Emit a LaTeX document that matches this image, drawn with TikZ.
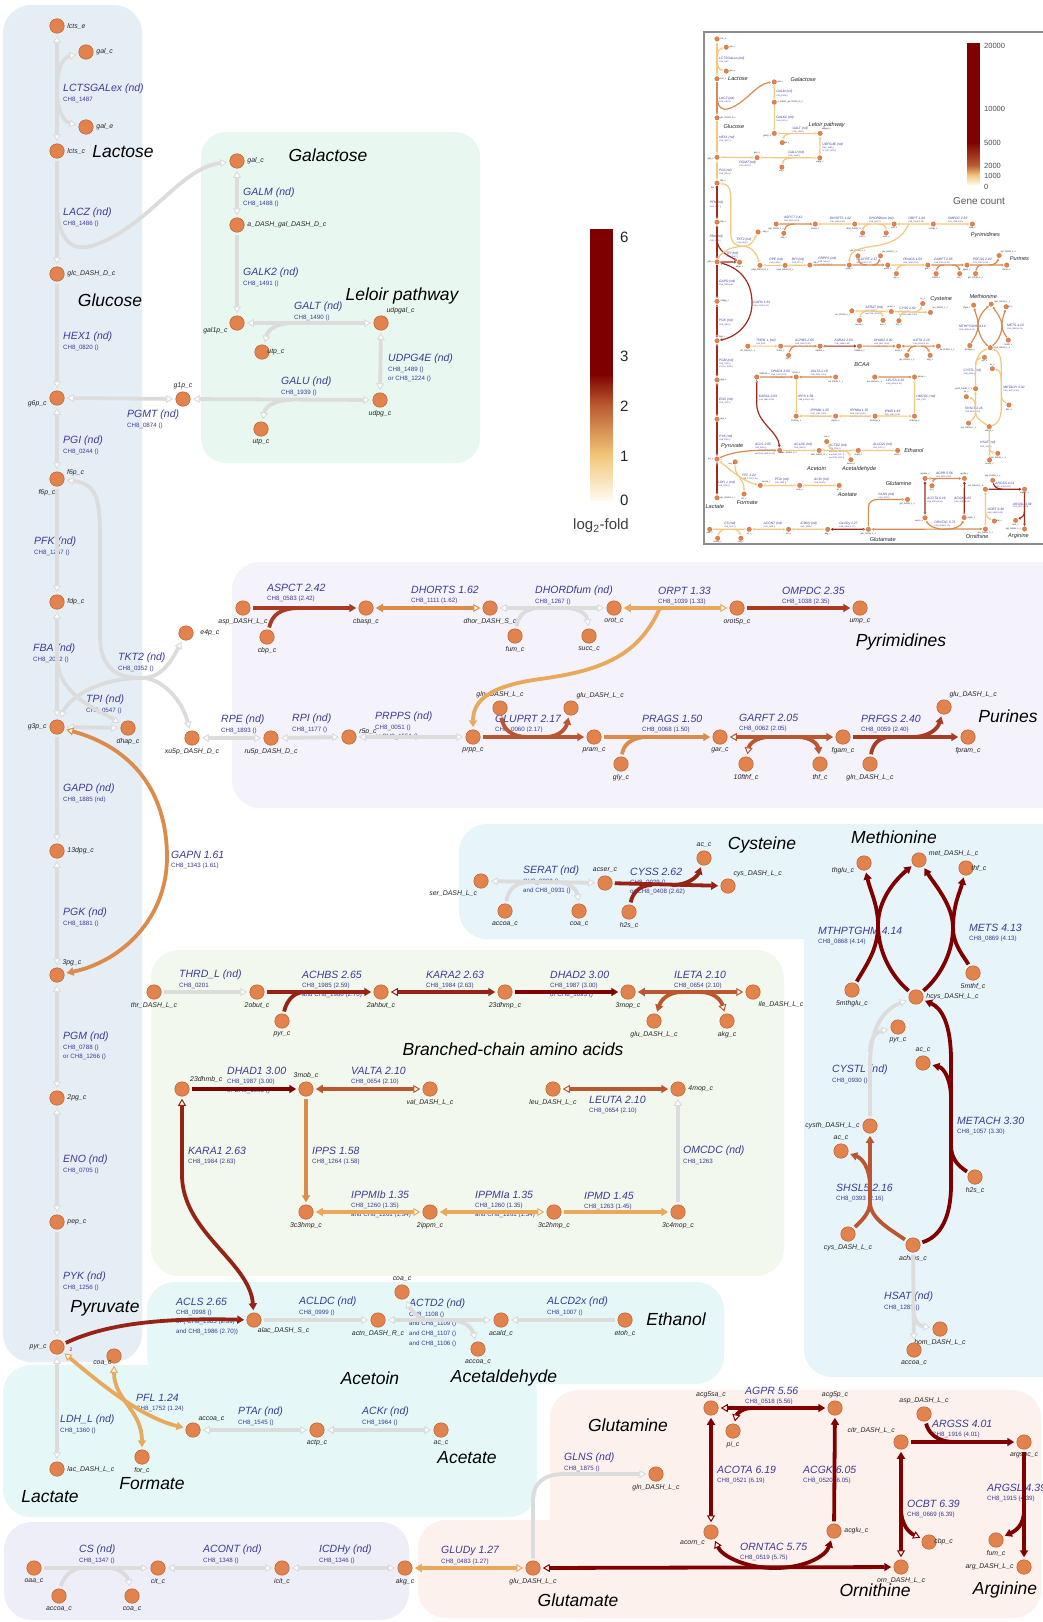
\documentclass[tikz,border=0pt]{standalone}
\usepackage{fontspec}
\setmainfont{Liberation Sans}
\usetikzlibrary{arrows.meta}
\definecolor{nodeF}{HTML}{E2834E}
\definecolor{nodeD}{HTML}{B9602E}
\definecolor{rxT}{HTML}{3B3B96}
\definecolor{cND}{HTML}{DCDCDC}
\definecolor{cA}{HTML}{E9A95C}
\definecolor{cB}{HTML}{DB8C4A}
\definecolor{cC}{HTML}{BA5630}
\definecolor{cD}{HTML}{A63C23}
\definecolor{cE}{HTML}{952416}
\definecolor{cF}{HTML}{800000}
\definecolor{inA}{HTML}{F3C87C}
\definecolor{inB}{HTML}{D68C50}
\definecolor{inC}{HTML}{9E2B1E}
\definecolor{pLeft}{HTML}{E6EEF5}
\definecolor{pGal}{HTML}{E8F8F1}
\definecolor{pPur}{HTML}{F4F3FB}
\definecolor{pCys}{HTML}{E7F4FA}
\definecolor{pBr}{HTML}{F2F8ED}
\definecolor{pAc}{HTML}{E5F7F7}
\definecolor{pTCA}{HTML}{EEEEF9}
\definecolor{pPink}{HTML}{FDF1EE}
\definecolor{cb0}{HTML}{FFF9EE}
\definecolor{cb1}{HTML}{F2C679}
\definecolor{cb2}{HTML}{BA5A30}
\definecolor{cb3}{HTML}{7F0000}
\tikzset{
 fT/.tip={Triangle[length=7pt,width=8pt]},
 oT/.tip={Triangle[open,fill=white,length=7pt,width=8pt,line width=1pt]},
 met/.style={circle,fill=nodeF,draw=nodeD,line width=0.5pt,minimum size=14.5pt,inner sep=0pt,outer sep=2.5pt},
 ml/.style={font=\fontsize{6.9}{7.5}\selectfont\itshape,text=black!85,inner sep=0.5pt},
 rxn/.style={font=\fontsize{10.5}{12}\selectfont\itshape,text=rxT,inner sep=0pt},
 gene/.style={font=\fontsize{6.2}{9.6}\selectfont,text=rxT,inner sep=0pt,align=left},
 pw/.style={font=\fontsize{17.5}{20}\selectfont\itshape,text=black,inner sep=0pt},
 stoich/.style={font=\fontsize{5}{5}\selectfont,text=red!80!black,inner sep=0pt},
 ldm/.style={label distance=-5pt},
 ldp/.style={label distance=4pt},
 ed/.style={line width=3.8pt},
 ND/.style={ed,draw=cND},
 EA/.style={ed,draw=cA},
 EB/.style={ed,draw=cB},
 EC/.style={ed,draw=cC},
 ED/.style={ed,draw=cD},
 EE/.style={ed,draw=cE},
 EF/.style={ed,draw=cF},
 gA/.style={}, gB/.style={}, gC/.style={},
 cbl/.style={font=\fontsize{15}{16}\selectfont,text=black!85,inner sep=0pt,anchor=west},
 icbl/.style={font=\fontsize{7.5}{8}\selectfont,text=black!70,inner sep=0pt,anchor=west}
}
\newcommand\bcaa{Branched-chain amino acids}
\newcommand\mnode[5]{\node[met,label={[ml]#4:#5}] (#1) at (#2,#3) {};}
\newcommand\rlab[4]{\node[rxn,anchor=west] at (#1,#2) {#3};\node[gene,anchor=north west] at (#1,#2+7.5) {#4};}
\newcommand\PW[3]{\node[pw] at (#1,#2) {#3};}
\newcommand\network{%
\PW{123}{152}{Lactose}
\PW{328}{155}{Galactose}
\PW{110}{300}{Glucose}
\PW{402}{296}{Leloir pathway}
\PW{901}{642}{Pyrimidines}
\PW{1008}{716}{Purines}
\PW{762}{845}{Cysteine}
\PW{894}{837}{Methionine}
\PW{513}{1049}{\bcaa}
\PW{105}{1308}{Pyruvate}
\PW{676}{1319}{Ethanol}
\PW{370}{1378}{Acetoin}
\PW{504}{1378}{Acetaldehyde}
\PW{467}{1458}{Acetate}
\PW{152}{1484}{Formate}
\PW{50}{1497}{Lactate}
\PW{628}{1425}{Glutamine}
\PW{578}{1600}{Glutamate}
\PW{875}{1590}{Ornithine}
\PW{1005}{1590}{Arginine}
% reaction labels
\rlab{63}{89}{LCTSGALex (nd)}{CH8\_1487}
\rlab{63}{213}{LACZ (nd)}{CH8\_1486 ()}
\rlab{243}{193}{GALM (nd)}{CH8\_1488 ()}
\rlab{243}{273}{GALK2 (nd)}{CH8\_1491 ()}
\rlab{294}{307}{GALT (nd)}{CH8\_1490 ()}
\rlab{63}{337}{HEX1 (nd)}{CH8\_0820 ()}
\rlab{388}{359}{UDPG4E (nd)}{CH8\_1489 ()\\or CH8\_1224 ()}
\rlab{281}{382}{GALU (nd)}{CH8\_1939 ()}
\rlab{127}{415}{PGMT (nd)}{CH8\_0874 ()}
\rlab{63}{441}{PGI (nd)}{CH8\_0244 ()}
\rlab{34}{542}{PFK (nd)}{CH8\_1257 ()}
\rlab{33}{649}{FBA (nd)}{CH8\_2022 ()}
\rlab{118}{658}{TKT2 (nd)}{CH8\_0352 ()}
\rlab{86}{700}{TPI (nd)}{CH8\_0547 ()}
\rlab{63}{789}{GAPD (nd)}{CH8\_1885 (nd)}
\rlab{171}{855}{GAPN 1.61}{CH8\_1343 (1.61)}
\rlab{63}{913}{PGK (nd)}{CH8\_1881 ()}
\rlab{63}{1037}{PGM (nd)}{CH8\_0788 ()\\or CH8\_1266 ()}
\rlab{63}{1160}{ENO (nd)}{CH8\_0705 ()}
\rlab{63}{1277}{PYK (nd)}{CH8\_1256 ()}
\rlab{60}{1420}{LDH\_L (nd)}{CH8\_1360 ()}
\rlab{176}{1302}{ACLS 2.65}{CH8\_0998 ()\\or ( CH8\_1985 (2.59)\\and CH8\_1986 (2.70))}
\rlab{136}{1398}{PFL 1.24}{CH8\_1752 (1.24)}
\rlab{238}{1412}{PTAr (nd)}{CH8\_1545 ()}
\rlab{362}{1412}{ACKr (nd)}{CH8\_1964 ()}
\rlab{299}{1302}{ACLDC (nd)}{CH8\_0999 ()}
\rlab{409}{1304}{ACTD2 (nd)}{CH8\_1108 ()\\and CH8\_1109 ()\\and CH8\_1107 ()\\and CH8\_1106 ()}
\rlab{547}{1302}{ALCD2x (nd)}{CH8\_1007 ()}
\rlab{79}{1550}{CS (nd)}{CH8\_1347 ()}
\rlab{203}{1550}{ACONT (nd)}{CH8\_1348 ()}
\rlab{319}{1550}{ICDHy (nd)}{CH8\_1346 ()}
\rlab{441}{1551}{GLUDy 1.27}{CH8\_0483 (1.27)}
\rlab{267}{588}{ASPCT 2.42}{CH8\_0583 (2.42)}
\rlab{411}{590}{DHORTS 1.62}{CH8\_1111 (1.62)}
\rlab{535}{591}{DHORDfum (nd)}{CH8\_1267 ()}
\rlab{658}{591}{ORPT 1.33}{CH8\_1039 (1.33)}
\rlab{782}{591}{OMPDC 2.35}{CH8\_1038 (2.35)}
\rlab{221}{720}{RPE (nd)}{CH8\_1893 ()}
\rlab{292}{719}{RPI (nd)}{CH8\_1177 ()}
\rlab{375}{717}{PRPPS (nd)}{CH8\_0051 ()\\or CH8\_1551 ()}
\rlab{495}{719}{GLUPRT 2.17}{CH8\_0060 (2.17)}
\rlab{642}{719}{PRAGS 1.50}{CH8\_0068 (1.50)}
\rlab{739}{718}{GARFT 2.05}{CH8\_0062 (2.05)}
\rlab{861}{719}{PRFGS 2.40}{CH8\_0059 (2.40)}
\rlab{523}{871}{SERAT (nd)}{CH8\_0932 ()\\and CH8\_0931 ()}
\rlab{630}{872}{CYSS 2.62}{CH8\_0929 ()\\or CH8\_0408 (2.62)}
\rlab{818}{931}{MTHPTGHM 4.14}{CH8\_0868 (4.14)}
\rlab{969}{928}{METS 4.13}{CH8\_0869 (4.13)}
\rlab{832}{1070}{CYSTL (nd)}{CH8\_0930 ()}
\rlab{957}{1121}{METACH 3.30}{CH8\_1057 (3.30)}
\rlab{836}{1188}{SHSL5 2.16}{CH8\_0393 (2.16)}
\rlab{884}{1297}{HSAT (nd)}{CH8\_1283 ()}
\rlab{179}{975}{THRD\_L (nd)}{CH8\_0201}
\rlab{302}{975}{ACHBS 2.65}{CH8\_1985 (2.59)\\and CH8\_1986 (2.70)}
\rlab{426}{975}{KARA2 2.63}{CH8\_1984 (2.63)}
\rlab{550}{975}{DHAD2 3.00}{CH8\_1987 (3.00)\\or CH8\_1693 ()}
\rlab{674}{975}{ILETA 2.10}{CH8\_0654 (2.10)}
\rlab{227}{1071}{DHAD1 3.00}{CH8\_1987 (3.00)\\or CH8\_1693 ()}
\rlab{351}{1071}{VALTA 2.10}{CH8\_0654 (2.10)}
\rlab{589}{1100}{LEUTA 2.10}{CH8\_0654 (2.10)}
\rlab{188}{1151}{KARA1 2.63}{CH8\_1984 (2.63)}
\rlab{312}{1151}{IPPS 1.58}{CH8\_1264 (1.58)}
\rlab{683}{1151}{OMCDC (nd)}{CH8\_1263}
\rlab{351}{1195}{IPPMIb 1.35}{CH8\_1260 (1.35)\\and CH8\_1261 (1.34)}
\rlab{475}{1195}{IPPMIa 1.35}{CH8\_1260 (1.35)\\and CH8\_1261 (1.34)}
\rlab{584}{1196}{IPMD 1.45}{CH8\_1263 (1.45)}
\rlab{564}{1458}{GLNS (nd)}{CH8\_1875 ()}
\rlab{745}{1391}{AGPR 5.56}{CH8\_0518 (5.56)}
\rlab{717}{1470}{ACOTA 6.19}{CH8\_0521 (6.19)}
\rlab{803}{1470}{ACGK 6.05}{CH8\_0520 (6.05)}
\rlab{740}{1547}{ORNTAC 5.75}{CH8\_0519 (5.75)}
\rlab{932}{1424}{ARGSS 4.01}{CH8\_1916 (4.01)}
\rlab{907}{1504}{OCBT 6.39}{CH8\_0669 (6.39)}
\rlab{987}{1488}{ARGSL 4.39}{CH8\_1915 (4.39)}
% metabolite nodes
\mnode{lctse}{57}{26}{right}{lcts\_e}
\mnode{galca}{86}{52}{right}{gal\_c}
\mnode{gale}{86}{127}{right}{gal\_e}
\mnode{lctsc}{57}{151}{right}{lcts\_c}
\mnode{glc}{57}{274}{right}{glc\_DASH\_D\_c}
\mnode{gsp}{57}{398}{190}{g6p\_c}
\node[met,label={[ml]15:f6p\_c},label={[ml]265:f6p\_c}] (f6p) at (57,479) {};
\mnode{fdp}{57}{602}{right}{fdp\_c}
\mnode{gtp}{57}{727}{left}{g3p\_c}
\mnode{dhap}{128}{728}{below}{dhap\_c}
\mnode{dpg}{57}{851}{right}{13dpg\_c}
\mnode{pgt}{57}{975}{60}{3pg\_c}
\mnode{pgd}{57}{1098}{right}{2pg\_c}
\mnode{pep}{57}{1222}{right}{pep\_c}
\mnode{pyr}{57}{1347}{left}{pyr\_c}
\mnode{lacL}{57}{1469}{right}{lac\_DASH\_L\_c}
\mnode{galcb}{237}{161}{right}{gal\_c}
\mnode{agal}{237}{225}{right}{a\_DASH\_gal\_DASH\_D\_c}
\mnode{galp}{237}{323}{205}{gal1p\_c}
\mnode{udpgal}{381}{323}{60}{udpgal\_c}
\node[met,label={[ml,ldm]right:utp\_c}] (utpa) at (262,352) {};
\mnode{gop}{183}{399}{above}{g1p\_c}
\mnode{udpg}{380}{400}{below}{udpg\_c}
\mnode{utpb}{261}{429}{below}{utp\_c}
\node[met,label={[ml,ldp]right:e4p\_c}] (e4p) at (186,633) {};
\mnode{xu}{192}{738}{below}{xu5p\_DASH\_D\_c}
\mnode{ru}{271}{738}{below}{ru5p\_DASH\_D\_c}
\mnode{r5p}{349}{737}{10}{r5p\_c}
\mnode{prpp}{473}{737}{below}{prpp\_c}
\mnode{aspa}{243}{608}{below}{asp\_DASH\_L\_c}
\mnode{cbpa}{267}{637}{below}{cbp\_c}
\mnode{cbasp}{366}{608}{below}{cbasp\_c}
\mnode{dhor}{490}{608}{below}{dhor\_DASH\_S\_c}
\mnode{fuma}{515}{636}{below}{fum\_c}
\mnode{succ}{589}{636}{below}{succ\_c}
\mnode{orot}{614}{608}{below}{orot\_c}
\mnode{orotp}{737}{608}{below}{orot5p\_c}
\mnode{ump}{860}{608}{below}{ump\_c}
\mnode{glna}{500}{708}{above}{gln\_DASH\_L\_c}
\mnode{glua}{571}{708}{60}{glu\_DASH\_L\_c}
\mnode{pram}{594}{737}{below}{pram\_c}
\mnode{gly}{621}{764}{below}{gly\_c}
\mnode{gar}{720}{737}{below}{gar\_c}
\mnode{fthf}{746}{764}{below}{10fthf\_c}
\mnode{thfa}{820}{764}{below}{thf\_c}
\mnode{fgam}{843}{737}{below}{fgam\_c}
\mnode{glnb}{870}{764}{below}{gln\_DASH\_L\_c}
\mnode{glub}{944}{707}{60}{glu\_DASH\_L\_c}
\mnode{fpram}{968}{737}{below}{fpram\_c}
\mnode{ser}{481}{881}{250}{ser\_DASH\_L\_c}
\mnode{accoab}{505}{911}{below}{accoa\_c}
\mnode{coab}{579}{911}{below}{coa\_c}
\mnode{acser}{605}{883}{above}{acser\_c}
\mnode{hsa}{629}{912}{below}{h2s\_c}
\mnode{aca}{704}{858}{above}{ac\_c}
\mnode{cysa}{728}{886}{60}{cys\_DASH\_L\_c}
\mnode{thglu}{864}{863}{200}{thglu\_c}
\mnode{metL}{919}{860}{20}{met\_DASH\_L\_c}
\node[met,label={[ml,ldm]right:thf\_c}] (thfb) at (966,868) {};
\mnode{mthglu}{852}{990}{below}{5mthglu\_c}
\mnode{hcys}{916}{997}{right}{hcys\_DASH\_L\_c}
\mnode{mthf}{973}{973}{below}{5mthf\_c}
\mnode{pyrb}{898}{1027}{below}{pyr\_c}
\mnode{acb}{923}{1063}{above}{ac\_c}
\mnode{cysth}{870}{1126}{left}{cysth\_DASH\_L\_c}
\mnode{acc}{841}{1151}{above}{ac\_c}
\mnode{hsb}{975}{1177}{below}{h2s\_c}
\mnode{cysb}{848}{1234}{below}{cys\_DASH\_L\_c}
\mnode{achms}{913}{1245}{below}{achms\_c}
\mnode{homL}{940}{1329}{below}{hom\_DASH\_L\_c}
\mnode{accoac}{914}{1350}{below}{accoa\_c}
\mnode{thrL}{154}{992}{below}{thr\_DASH\_L\_c}
\mnode{obut}{257}{992}{below}{2obut\_c}
\mnode{pyrc}{282}{1021}{below}{pyr\_c}
\mnode{ahbut}{381}{992}{below}{2ahbut\_c}
\mnode{dhmp}{505}{992}{below}{23dhmp\_c}
\mnode{mopa}{628}{992}{below}{3mop\_c}
\mnode{glud}{654}{1021}{below}{glu\_DASH\_L\_c}
\mnode{akga}{727}{1021}{below}{akg\_c}
\mnode{ileL}{753}{992}{300}{ile\_DASH\_L\_c}
\mnode{dhmb}{182}{1089}{40}{23dhmb\_c}
\mnode{mob}{306}{1089}{above}{3mob\_c}
\mnode{valL}{430}{1089}{below}{val\_DASH\_L\_c}
\mnode{leuL}{553}{1089}{below}{leu\_DASH\_L\_c}
\mnode{mopb}{678}{1089}{right}{4mop\_c}
\mnode{cthmp}{306}{1212}{below}{3c3hmp\_c}
\mnode{ippm}{430}{1212}{below}{2ippm\_c}
\mnode{cchmp}{554}{1212}{below}{3c2hmp\_c}
\mnode{cmop}{678}{1212}{below}{3c4mop\_c}
\node[met,label={[ml,label distance=-2pt]295:alac\_DASH\_S\_c}] (alac) at (254,1320) {};
\mnode{actn}{378}{1320}{below}{actn\_DASH\_R\_c}
\mnode{coac}{402}{1292}{above}{coa\_c}
\mnode{acald}{501}{1320}{below}{acald\_c}
\mnode{etoh}{625}{1320}{below}{etoh\_c}
\mnode{accoad}{478}{1349}{below}{accoa\_c}
\node[met,label={[ml,ldm]250:coa\_c}] (coad) at (114,1356) {};
\mnode{accoae}{193}{1430}{60}{accoa\_c}
\mnode{actp}{317}{1430}{below}{actp\_c}
\mnode{acd}{441}{1430}{below}{ac\_c}
\mnode{forc}{142}{1457}{below}{for\_c}
\mnode{oaa}{34}{1568}{below}{oaa\_c}
\mnode{accoaf}{59}{1596}{below}{accoa\_c}
\mnode{coae}{132}{1596}{below}{coa\_c}
\mnode{cit}{158}{1568}{below}{cit\_c}
\mnode{icit}{282}{1568}{below}{icit\_c}
\mnode{akgb}{405}{1568}{below}{akg\_c}
\mnode{gluc}{533}{1568}{below}{glu\_DASH\_L\_c}
\mnode{glnc}{656}{1474}{below}{gln\_DASH\_L\_c}
\mnode{acgsa}{711}{1408}{above}{acg5sa\_c}
\mnode{acgp}{835}{1408}{above}{acg5p\_c}
\mnode{pinode}{733}{1431}{below}{pi\_c}
\mnode{acorn}{711}{1532}{235}{acorn\_c}
\mnode{acglu}{834}{1531}{right}{acglu\_c}
\mnode{ornL}{901}{1567}{below}{orn\_DASH\_L\_c}
\mnode{citr}{901}{1442}{125}{citr\_DASH\_L\_c}
\mnode{aspb}{924}{1414}{above}{asp\_DASH\_L\_c}
\mnode{argsuc}{1024}{1442}{below}{argsuc\_c}
\node[met,label={[ml,ldm]right:cbp\_c}] (cbpb) at (929,1542) {};
\mnode{fumb}{996}{1540}{below}{fum\_c}
\mnode{argL}{1024}{1567}{left}{arg\_DASH\_L\_c}
\node[stoich] at (71,1350) {2};
% ---- edges ----
\draw[ND,gA,oT-oT] (lctse) -- (lctsc);
\coordinate (ja) at (57,92);
\draw[ND,gA,-oT] (ja) .. controls (57,68) and (62,58) .. (galca);
\draw[ND,gA,-oT] (ja) .. controls (57,110) and (64,122) .. (gale);
\draw[ND,gB,-oT] (lctsc) -- (glc);
\coordinate (jb) at (57,200);
\draw[ND,gB,-oT] (jb) .. controls (57,245) and (75,252) .. (95,245) .. controls (150,225) and (180,168) .. (galcb);
\draw[ND,gA,-oT] (glc) -- (gsp);
\draw[ND,gA,oT-oT] (gsp) -- (gop);
\draw[ND,gA,oT-oT] (gsp) -- (f6p);
\draw[ND,gC,-oT] (f6p) -- (fdp);
\draw[ND,gC,oT-oT] (fdp) -- (gtp);
\coordinate (jc) at (57,655);
\draw[ND,gC,-oT] (jc) .. controls (57,695) and (95,708) .. (dhap);
\draw[ND,gC,oT-oT] (gtp) -- (dhap);
\coordinate (jd) at (142,678);
\draw[ND,gA,oT-] (f6p) .. controls (100,484) and (100,505) .. (100,545) -- (100,635) .. controls (100,670) and (118,678) .. (jd);
\draw[ND,gA,-oT] (jd) .. controls (162,678) and (172,660) .. (e4p);
\draw[ND,gA,-oT] (jd) .. controls (162,678) and (182,700) .. (xu);
\draw[ND,gA,-oT] (jd) .. controls (95,678) and (68,700) .. (gtp);
\draw[ND,gC,-oT] (gtp) -- (dpg);
\draw[EB,gC,oT-fT] (gtp) .. controls (140,750) and (167,800) .. (167,857) .. controls (167,920) and (120,962) .. (pgt);
\draw[ND,gC,oT-oT] (dpg) -- (pgt);
\draw[ND,gC,oT-oT] (pgt) -- (pgd);
\draw[ND,gC,oT-oT] (pgd) -- (pep);
\draw[ND,gC,-oT] (pep) -- (pyr);
\draw[ND,gC,oT-oT] (pyr) -- (lacL);
\draw[EE,gB,-fT] (pyr) .. controls (110,1322) and (170,1318) .. (alac);
\draw[EA,gA,oT-fT] (pyr) .. controls (110,1392) and (145,1418) .. (accoae);
\draw[EA,gA,oT-fT] (coad) .. controls (114,1400) and (142,1410) .. (forc);
\draw[ND,gA,oT-oT] (galcb) -- (agal);
\draw[ND,gA,-oT] (agal) -- (galp);
\draw[ND,gA,oT-oT] (galp) -- (udpgal);
\coordinate (je) at (295,323);
\draw[ND,gA,-oT] (je) .. controls (275,323) and (268,330) .. (utpa);
\draw[ND,gA,oT-oT] (udpgal) -- (udpg);
\draw[ND,gA,oT-oT] (gop) -- (udpg);
\coordinate (jf) at (292,400);
\draw[ND,gA,-oT] (jf) .. controls (272,400) and (265,408) .. (utpb);
\draw[ED,gB,-fT] (aspa) -- (cbasp);
\coordinate (jg) at (300,608);
\draw[ED,gB] (cbpa) .. controls (272,615) and (280,608) .. (jg);
\draw[EB,gA,fT-oT] (cbasp) -- (dhor);
\draw[ND,gA,oT-oT] (dhor) -- (orot);
\coordinate (jh) at (540,608);
\draw[ND,gA] (fuma) .. controls (518,616) and (525,608) .. (jh);
\coordinate (ji) at (565,608);
\draw[ND,gA,-oT] (ji) .. controls (580,608) and (587,615) .. (succ);
\draw[EA,gA,fT-oT] (orot) -- (orotp);
\coordinate (jj) at (660,608);
\draw[EA,gA,-fT] (jj) .. controls (640,652) and (608,670) .. (540,679) .. controls (490,686) and (473,700) .. (prpp);
\draw[ED,gA,-fT] (orotp) -- (ump);
\draw[ND,gA,oT-oT] (xu) -- (ru);
\draw[ND,gA,oT-oT] (ru) -- (r5p);
\draw[ND,gB,oT-oT] (r5p) -- (prpp);
\draw[EC,gB,-fT] (prpp) -- (pram);
\coordinate (jk) at (528,737);
\draw[EC,gB] (glna) .. controls (503,728) and (510,737) .. (jk);
\coordinate (jl) at (545,737);
\draw[EC,gB,-fT] (jl) .. controls (560,737) and (566,728) .. (glua);
\draw[EB,gA,-fT] (pram) -- (gar);
\coordinate (jm) at (648,737);
\draw[EB,gA] (gly) .. controls (623,746) and (630,737) .. (jm);
\draw[EC,gB,oT-fT] (gar) -- (fgam);
\coordinate (jn) at (770,737);
\draw[EC,gB,oT-] (fthf) .. controls (749,745) and (755,737) .. (jn);
\coordinate (jo) at (797,737);
\draw[EC,gB,-fT] (jo) .. controls (812,737) and (818,745) .. (thfa);
\draw[ED,gB,-fT] (fgam) -- (fpram);
\coordinate (jp) at (890,737);
\draw[ED,gB] (glnb) .. controls (872,746) and (878,737) .. (jp);
\coordinate (jq) at (912,737);
\draw[ED,gB,-fT] (jq) .. controls (930,737) and (938,728) .. (glub);
\draw[ND,gA,oT-oT] (ser) -- (acser);
\coordinate (jr) at (530,882);
\draw[ND,gA] (accoab) .. controls (508,890) and (515,882) .. (jr);
\coordinate (js) at (555,882);
\draw[ND,gA,-oT] (js) .. controls (570,882) and (577,890) .. (coab);
\draw[EE,gA,-fT] (acser) -- (cysa);
\coordinate (jt) at (652,885);
\draw[EE,gA] (hsa) .. controls (632,895) and (638,885) .. (jt);
\coordinate (ju) at (672,885);
\draw[EE,gA,-fT] (ju) .. controls (690,885) and (698,875) .. (aca);
\draw[EF,gB,-fT] (hcys) .. controls (890,975) and (878,950) .. (878,925) .. controls (878,905) and (870,890) .. (thglu);
\draw[EF,gB,-fT] (mthglu) .. controls (866,965) and (878,950) .. (878,925) .. controls (878,900) and (895,880) .. (metL);
\draw[EF,gB,-fT] (hcys) .. controls (942,975) and (953,950) .. (953,928) .. controls (953,905) and (935,885) .. (metL);
\draw[EF,gB,-fT] (mthf) .. controls (965,958) and (953,945) .. (953,928) .. controls (953,905) and (960,892) .. (thfb);
\draw[ND,gA,-oT] (cysth) -- (870,1065) .. controls (870,1030) and (882,1010) .. (hcys);
\coordinate (jv) at (870,1052);
\draw[ND,gA,-oT] (jv) .. controls (870,1038) and (876,1032) .. (pyrb);
\draw[EF,gA,-fT] (achms) .. controls (940,1237) and (951,1218) .. (951,1185) -- (951,1060) .. controls (951,1025) and (942,1008) .. (hcys);
\coordinate (jw) at (951,1098);
\draw[EF,gA,-fT] (jw) .. controls (951,1080) and (944,1068) .. (acb);
\coordinate (jx) at (951,1145);
\draw[EF,gA] (hsb) .. controls (957,1165) and (951,1158) .. (jx);
\coordinate (jy) at (870,1202);
\draw[EC,gA,-fT] (jy) -- (cysth);
\draw[EC,gA] (cysb) .. controls (860,1222) and (870,1214) .. (jy);
\draw[EC,gA] (achms) .. controls (888,1228) and (870,1218) .. (jy);
\coordinate (jz) at (870,1186);
\draw[EC,gA,-fT] (jz) .. controls (870,1168) and (862,1158) .. (acc);
\draw[ND,gA,-oT] (achms) -- (accoac);
\coordinate (jaa) at (913,1306);
\draw[ND,gA,-oT] (jaa) .. controls (913,1322) and (920,1326) .. (homL);
\draw[ND,gA,-oT] (thrL) -- (obut);
\draw[EE,gB,-fT] (obut) -- (ahbut);
\coordinate (jab) at (305,992);
\draw[EE,gB] (pyrc) .. controls (286,1003) and (292,992) .. (jab);
\draw[EE,gC,oT-fT] (ahbut) -- (dhmp);
\draw[EF,gB,-fT] (dhmp) -- (mopa);
\draw[EC,gB,fT-oT] (mopa) -- (ileL);
\coordinate (jac) at (682,992);
\draw[EC,gB,-fT] (jac) .. controls (668,992) and (661,1000) .. (glud);
\coordinate (jad) at (700,992);
\draw[EC,gB,-oT] (jad) .. controls (714,992) and (721,1000) .. (akga);
\draw[EF,gB,-fT] (dhmb) -- (mob);
\draw[EE,gC,oT-fT] (dhmb) -- (182,1175) .. controls (182,1232) and (250,1262) .. (alac);
\draw[EC,gB,fT-oT] (mob) -- (valL);
\draw[EB,gA,-fT] (mob) -- (cthmp);
\draw[EA,gA,fT-oT] (cthmp) -- (ippm);
\draw[EA,gA,fT-oT] (ippm) -- (cchmp);
\draw[EA,gA,-fT] (cchmp) -- (cmop);
\draw[ND,gA,-oT] (cmop) -- (mopb);
\draw[EC,gB,oT-fT] (leuL) -- (mopb);
\draw[ND,gA,-oT] (alac) -- (actn);
\draw[ND,gA,oT-oT] (actn) -- (acald);
\coordinate (jae) at (428,1320);
\draw[ND,gA,oT-] (coac) .. controls (410,1308) and (418,1320) .. (jae);
\coordinate (jaf) at (448,1320);
\draw[ND,gA,-oT] (jaf) .. controls (465,1320) and (472,1328) .. (accoad);
\draw[ND,gA,-oT] (etoh) -- (acald);
\draw[ND,gA,oT-oT] (accoae) -- (actp);
\draw[ND,gA,oT-oT] (actp) -- (acd);
\draw[ND,gA,-oT] (oaa) -- (cit);
\coordinate (jag) at (82,1568);
\draw[ND,gA] (accoaf) .. controls (62,1580) and (70,1568) .. (jag);
\coordinate (jah) at (108,1568);
\draw[ND,gA,-oT] (jah) .. controls (122,1568) and (128,1578) .. (coae);
\draw[ND,gA,oT-oT] (cit) -- (icit);
\draw[ND,gA,oT-oT] (icit) -- (akgb);
\draw[EA,gC,fT-oT] (akgb) -- (gluc);
\draw[ND,gB,-oT] (gluc) -- (533,1500) .. controls (533,1482) and (545,1474) .. (565,1474) -- (glnc);
\draw[EF,gB,oT-fT] (gluc) -- (ornL);
\coordinate (jai) at (775,1568);
\draw[EF,gB,oT-] (acorn) .. controls (722,1556) and (745,1568) .. (jai);
\draw[EF,gB,-fT] (jai) .. controls (805,1568) and (826,1556) .. (acglu);
\draw[EF,gC,oT-fT] (acorn) -- (acgsa);
\draw[EF,gB,oT-fT] (acgsa) -- (acgp);
\coordinate (jaj) at (752,1408);
\draw[EF,gB,oT-] (pinode) .. controls (736,1416) and (740,1408) .. (jaj);
\draw[EF,gC,-fT] (acglu) -- (acgp);
\draw[EF,gA,oT-fT] (ornL) -- (citr);
\coordinate (jak) at (901,1508);
\draw[EF,gA,-oT] (jak) .. controls (901,1526) and (910,1533) .. (cbpb);
\draw[EF,gC,-fT] (citr) -- (argsuc);
\coordinate (jal) at (955,1442);
\draw[EF,gC] (aspb) .. controls (928,1432) and (936,1442) .. (jal);
\draw[EF,gC,-fT] (argsuc) -- (argL);
\coordinate (jam) at (1024,1510);
\draw[EF,gC,-fT] (jam) .. controls (1024,1526) and (1015,1531) .. (fumb);
}
\begin{document}
\begin{tikzpicture}[x=1pt,y=-1pt]
\path[use as bounding box] (0,0) rectangle (1043,1622);
\clip (0,0) rectangle (1043,1622);
\fill[white] (0,0) rectangle (1043,1622);
% panels
\fill[pLeft,rounded corners=28pt] (3,5) rectangle (142,1362);
\fill[pGal,rounded corners=25pt] (201,132) rectangle (480,463);
\fill[pPur,rounded corners=28pt] (232,562) rectangle (1080,808);
\fill[pCys,rounded corners=28pt] (459,824) rectangle (1080,939);
\fill[pCys,rounded corners=28pt] (804,824) rectangle (1080,1377);
\fill[pBr,rounded corners=28pt] (151,950) rectangle (784,1276);
\fill[pAc,rounded corners=28pt] (147,1282) rectangle (724,1384);
\fill[pAc,rounded corners=28pt] (3,1365) rectangle (537,1517);
\fill[pTCA,rounded corners=28pt] (4,1522) rectangle (409,1620);
\fill[pPink,rounded corners=28pt] (550,1390) rectangle (1041,1618);
\fill[pPink,rounded corners=28pt] (418,1520) rectangle (1041,1618);
% main network
\network
% log2-fold colour bar
\foreach \i in {0,...,45}{\pgfmathsetmacro\pp{100*\i/45}\fill[cb1!\pp!cb0] (590,{501-\i}) rectangle (613,{499.4-\i});}
\foreach \i in {0,...,50}{\pgfmathsetmacro\pp{100*\i/50}\fill[cb2!\pp!cb1] (590,{456-\i}) rectangle (613,{454.4-\i});}
\foreach \i in {0,...,31}{\pgfmathsetmacro\pp{100*\i/31}\fill[cb3!\pp!cb2] (590,{406-\i}) rectangle (613,{404.4-\i});}
\fill[cb3] (590,376) rectangle (613,229);
\node[cbl] (t6) at (620,237) {6};
\node[cbl] (t3) at (620,356) {3};
\node[cbl] (t2) at (620,406) {2};
\node[cbl] (t1) at (620,456) {1};
\node[cbl] (t0) at (620,500) {0};
\node[font=\fontsize{15}{16}\selectfont,text=black!75,inner sep=0pt] (lgf) at (601,526) {log\textsubscript{2}-fold};
% inset
\draw[black!45,line width=1.2pt] (704,32) rectangle (1060,544);
\begin{scope}[shift={(698.9,30.7)},scale=0.318,name prefix=ins-,
 met/.style={circle,fill=nodeF,draw=nodeD,line width=0.15pt,minimum size=4.6pt,inner sep=0pt,outer sep=0.8pt},
 ml/.style={font=\fontsize{2.2}{2.4}\selectfont\itshape,text=black!85,inner sep=0.15pt},
 rxn/.style={font=\fontsize{3.3}{3.6}\selectfont\itshape,text=rxT,inner sep=0pt},
 gene/.style={font=\fontsize{2}{3}\selectfont,text=rxT,inner sep=0pt,align=left},
 pw/.style={font=\fontsize{5.6}{6}\selectfont\itshape,text=black!85,inner sep=0pt},
 stoich/.style={font=\fontsize{1.6}{2}\selectfont,text=red!80!black,inner sep=0pt},
 ed/.style={line width=1.2pt},
 ldm/.style={label distance=-1.6pt},
 ldp/.style={label distance=1.3pt},
 gA/.style={draw=inA}, gB/.style={draw=inB}, gC/.style={draw=inC},
 fT/.tip={Triangle[length=2.3pt,width=2.7pt]},
 oT/.tip={Triangle[open,fill=white,length=2.3pt,width=2.7pt,line width=0.35pt]}]
\def\bcaa{BCAA}
\network
\end{scope}
% gene count colour bar
\foreach \i in {0,...,11}{\pgfmathsetmacro\pp{100*\i/11}\fill[cb1!\pp!white] (967,{187-\i}) rectangle (980,{185.6-\i});}
\foreach \i in {0,...,10}{\pgfmathsetmacro\pp{100*\i/10}\fill[cb2!\pp!cb1] (967,{176-\i}) rectangle (980,{174.6-\i});}
\foreach \i in {0,...,23}{\pgfmathsetmacro\pp{100*\i/23}\fill[cb3!\pp!cb2] (967,{166-\i}) rectangle (980,{164.6-\i});}
\fill[cb3] (967,144) rectangle (980,43);
\node[icbl] (g1) at (984,46) {20000};
\node[icbl] (g2) at (984,109) {10000};
\node[icbl] (g3) at (984,143) {5000};
\node[icbl] (g4) at (984,166) {2000};
\node[icbl] (g5) at (984,176) {1000};
\node[icbl] (g6) at (984,187) {0};
\node[font=\fontsize{10}{11}\selectfont,text=black!65,inner sep=0pt] (gc) at (979,201) {Gene count};
\end{tikzpicture}
\end{document}
